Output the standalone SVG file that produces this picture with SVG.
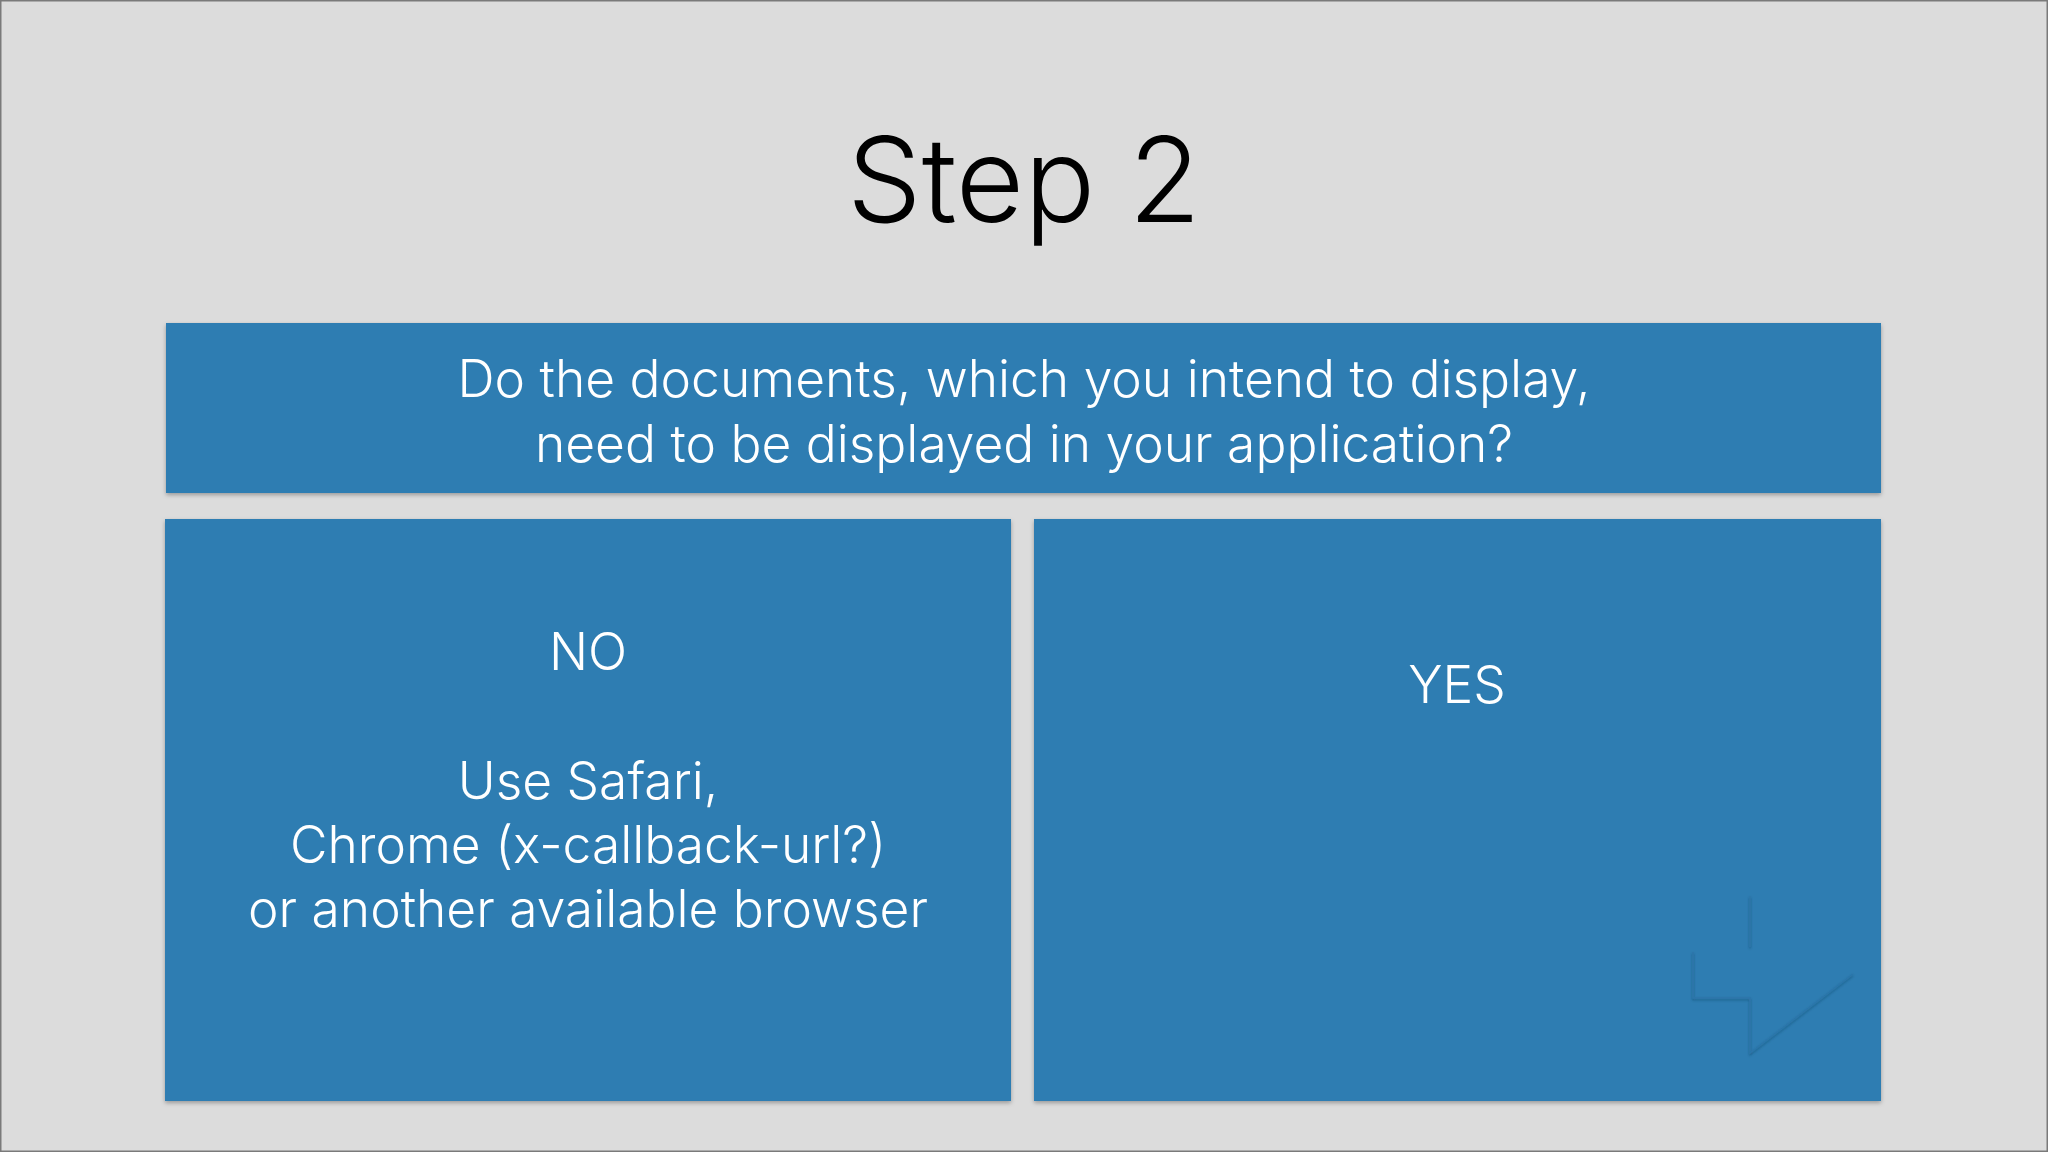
<svg xmlns="http://www.w3.org/2000/svg" width="2048" height="1152" viewBox="0 0 2048 1152">
  <defs>
    <filter id="shadow" x="-5%" y="-5%" width="110%" height="115%">
      <feDropShadow dx="0" dy="2" stdDeviation="2" flood-color="#000" flood-opacity="0.3"/>
    </filter>
    <filter id="emboss" filterUnits="userSpaceOnUse" x="1650" y="880" width="230" height="190">
      <feDropShadow dx="0" dy="1.5" stdDeviation="1" flood-color="#0a3a5a" flood-opacity="0.5"/>
    </filter>
  </defs>
  <style>
    .card { fill: #2f7db2; filter: url(#shadow); }
    .txt { font-family: "Inter", "Open Sans", "Liberation Sans", sans-serif; font-weight: 300; fill: #ffffff; font-size: 51.5px; text-anchor: middle; }
    .title { font-family: "Inter", "Open Sans", "Liberation Sans", sans-serif; font-weight: 300; fill: #000000; font-size: 118px; text-anchor: middle; }
    .edge { fill: none; stroke: #2b76aa; stroke-width: 1.5; filter: url(#emboss); }
  </style>
  <rect x="0" y="0" width="2048" height="1152" fill="#dcdcdc"/>
  <rect x="0.75" y="0.75" width="2046.5" height="1150.5" fill="none" stroke="#7a7a7a" stroke-width="1.5"/>
  <g id="title">
    <text class="title" x="1024" y="222">Step 2</text>
  </g>
  <g id="question">
    <rect class="card" x="166" y="323" width="1715" height="170"/>
    <text class="txt" x="1024" y="397">Do the documents, which you intend to display,</text>
    <text class="txt" x="1024" y="462">need to be displayed in your application?</text>
  </g>
  <g id="no">
    <rect class="card" x="165" y="519" width="846" height="582"/>
    <text class="txt" x="588" y="670">NO</text>
    <text class="txt" x="588" y="799">Use Safari,</text>
    <text class="txt" x="588" y="863">Chrome (x-callback-url?)</text>
    <text class="txt" x="588" y="927">or another available browser</text>
  </g>
  <g id="yes">
    <rect class="card" x="1034" y="519" width="847" height="582"/>
    <text class="txt" x="1457" y="703">YES</text>
    <g id="arrow-emboss">
      <line class="edge" x1="1750" y1="896" x2="1750" y2="947"/>
      <polyline class="edge" points="1693,952 1693,998 1750,998 1750,1053 1853,974"/>
    </g>
  </g>
  <g id="connectors"/>
</svg>
